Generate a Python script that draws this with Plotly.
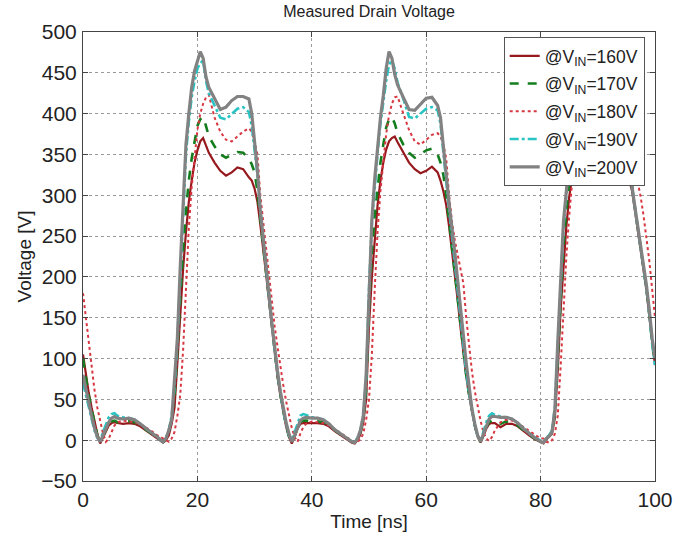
import plotly.graph_objects as go

TIME_NS = [
    0, 0.5, 1, 1.5, 2, 2.5, 3, 3.5, 4, 4.5, 5, 5.5, 6,
    7, 8, 9, 10, 11, 12, 13, 14,
    14.5, 15, 15.5, 16, 16.5, 17, 17.5, 18, 18.5, 19, 19.5, 20, 20.5, 21, 21.5, 22,
    23, 24, 25, 26, 27, 28, 29,
    29.5, 30, 30.5, 31, 31.5, 32, 32.5, 33, 33.5, 34, 34.5, 35, 35.5, 36,
    36.5, 37, 37.5, 38, 38.5, 39,
    40, 41, 42, 43, 44, 45, 46, 47,
    47.5, 48, 48.5, 49, 49.5, 50, 50.5, 51, 51.5, 52, 52.5, 53, 53.5, 54, 54.5, 55,
    56, 57, 58, 59, 60, 61, 62,
    62.5, 63, 63.5, 64, 64.5, 65, 65.5, 66, 66.5, 67, 67.5, 68, 68.5, 69,
    69.5, 70, 70.5, 71, 71.5, 72,
    73, 74, 75, 76, 77, 78, 79, 80,
    80.5, 81, 81.5, 82, 82.5, 83, 83.5, 84, 84.5, 85, 85.5, 86, 86.5, 87, 87.5, 88,
    89, 90, 91, 92, 93, 94, 95,
    95.5, 96, 96.5, 97, 97.5, 98, 98.5, 99, 99.5, 100,
]

V160 = [
    105, 80, 58, 40, 22, 8, -4, 4, 12, 18, 21, 22, 21,
    20, 21, 20, 17, 12, 7, 2, -3,
    0, 6, 20, 40, 95, 155, 210, 255, 292, 318, 340, 355, 366, 370, 362, 352,
    340, 330, 324, 328, 334, 332, 322,
    318, 308, 292, 264, 236, 204, 172, 138, 106, 78, 55, 34, 17, 4,
    -4, 4, 14, 20, 21, 21,
    21, 21, 20, 17, 11, 6, 1, -3,
    -4, 0, 7, 22, 50, 140, 200, 250, 288, 318, 340, 356, 366, 370, 372, 365,
    352, 340, 332, 327, 330, 335, 328,
    318, 305, 288, 262, 234, 204, 172, 138, 106, 78, 55, 34, 17, 4,
    -3, 5, 14, 20, 21, 21,
    16, 20, 20, 17, 11, 6, 1, -3,
    -4, 1, 4, 8, 28, 85, 160, 217, 262, 298, 325, 345, 360, 368, 371, 366,
    352, 338, 328, 326, 332, 335, 325,
    318, 305, 282, 258, 234, 210, 184, 152, 118, 92,
]

V170 = [
    100, 75, 55, 38, 20, 6, -2, 6, 14, 20, 23, 24, 22,
    22, 23, 22, 18, 13, 8, 3, -2,
    2, 10, 28, 55, 110, 175, 235, 280, 318, 345, 365, 385, 393, 396, 385, 372,
    360, 350, 346, 350, 353, 352, 345,
    338, 328, 305, 268, 238, 206, 174, 140, 108, 80, 56, 35, 18, 5,
    -3, 5, 15, 22, 24, 24,
    23, 23, 22, 18, 12, 7, 2, -2,
    -3, 2, 10, 26, 62, 160, 230, 275, 312, 340, 362, 383, 393, 396, 388, 376,
    362, 352, 346, 350, 355, 357, 350,
    340, 325, 300, 268, 238, 206, 174, 140, 108, 80, 56, 35, 18, 5,
    -2, 6, 16, 22, 24, 24,
    20, 23, 22, 18, 12, 7, 2, -2,
    -3, 2, 5, 9, 32, 100, 175, 238, 282, 318, 348, 370, 388, 396, 394, 382,
    368, 355, 346, 350, 355, 355, 345,
    335, 308, 284, 260, 236, 212, 186, 155, 120, 95,
]

V180 = [
    180, 150, 120, 90, 62, 40, 22, 8, -2, 2, 10, 18, 22,
    24, 23, 22, 20, 16, 11, 6, 2,
    -1, -2, 2, 10, 30, 55, 110, 190, 260, 310, 350, 380, 400, 412, 420, 423,
    395, 378, 368, 366, 372, 378, 382,
    378, 365, 350, 300, 268, 237, 200, 165, 140, 115, 90, 68, 48, 30,
    15, 4, -2, 8, 16, 20,
    23, 22, 21, 18, 14, 9, 4, 0,
    -2, -2, 1, 8, 25, 50, 105, 185, 255, 305, 345, 375, 398, 412, 420, 421,
    400, 380, 366, 362, 368, 374, 376,
    372, 362, 345, 300, 268, 245, 228, 210, 192, 150, 112, 84, 60, 40,
    24, 10, 2, -1, 4, 12,
    22, 25, 24, 21, 16, 11, 6, 2,
    2, -2, -3, 0, 8, 30, 90, 165, 225, 275, 318, 355, 385, 404, 416, 422,
    412, 390, 370, 364, 368, 376, 382,
    368, 350, 335, 318, 298, 275, 250, 220, 185, 150,
]

V190 = [
    70, 55, 40, 26, 12, 3, -1, 10, 20, 28, 32, 33, 30,
    28, 27, 25, 20, 14, 8, 3, -2,
    3, 12, 30, 65, 120, 200, 285, 350, 390, 420, 440, 455, 462, 465, 440, 425,
    410, 395, 393, 400, 406, 408, 402,
    385, 358, 325, 280, 245, 212, 178, 143, 110, 82, 58, 36, 20, 6,
    0, 10, 22, 30, 32, 31,
    28, 27, 25, 20, 13, 8, 3, -2,
    -2, 3, 12, 30, 75, 185, 265, 315, 352, 388, 415, 440, 460, 466, 455, 438,
    418, 396, 394, 400, 406, 408, 404,
    388, 350, 318, 282, 250, 215, 180, 145, 112, 82, 58, 36, 18, 5,
    0, 10, 22, 30, 33, 31,
    29, 28, 26, 21, 14, 8, 3, -1,
    -2, 3, 6, 12, 40, 115, 195, 262, 300, 340, 382, 415, 440, 458, 465, 458,
    432, 410, 396, 396, 402, 408, 405,
    368, 308, 283, 258, 236, 212, 186, 155, 118, 92,
]

V200 = [
    80, 62, 45, 30, 15, 4, -2, 6, 14, 22, 27, 29, 27,
    26, 27, 25, 20, 14, 9, 4, -2,
    2, 12, 25, 70, 125, 212, 295, 362, 400, 432, 452, 466, 476, 468, 445, 432,
    418, 405, 408, 416, 421, 421, 418,
    400, 365, 330, 282, 250, 215, 180, 145, 112, 85, 60, 38, 22, 8,
    -2, 6, 16, 24, 27, 28,
    27, 27, 25, 20, 13, 8, 3, -2,
    -3, 2, 12, 30, 80, 190, 270, 320, 358, 395, 422, 455, 476, 468, 448, 435,
    420, 405, 404, 412, 419, 420, 410,
    395, 355, 325, 290, 262, 230, 196, 165, 128, 94, 65, 38, 20, 6,
    -2, 8, 18, 26, 29, 29,
    28, 28, 26, 21, 14, 8, 3, -2,
    -3, 2, 5, 10, 38, 120, 200, 268, 305, 345, 390, 425, 450, 470, 476, 465,
    430, 410, 405, 412, 419, 421, 412,
    370, 310, 285, 262, 240, 215, 190, 160, 125, 100,
]

SERIES_NAMES = [
    "@V<sub>IN</sub>=160V",
    "@V<sub>IN</sub>=170V",
    "@V<sub>IN</sub>=180V",
    "@V<sub>IN</sub>=190V",
    "@V<sub>IN</sub>=200V",
]
SERIES_VALUES = [V160, V170, V180, V190, V200]
SERIES_STYLE = [
    dict(color="rgb(150,25,30)", width=2.2, dash="solid"),
    dict(color="rgb(20,125,30)", width=2.6, dash="dash"),
    dict(color="rgb(215,55,65)", width=2.0, dash="dot"),
    dict(color="rgb(40,195,195)", width=2.6, dash="dashdot"),
    dict(color="rgb(130,130,130)", width=3.2, dash="solid"),
]

FONT = "Liberation Sans, Arial, Helvetica, sans-serif"

fig = go.Figure()
for i, (name, vals, style) in enumerate(zip(SERIES_NAMES, SERIES_VALUES, SERIES_STYLE)):
    fig.add_trace(go.Scatter(x=TIME_NS, y=vals, mode="lines", name=name,
                             line=style, legendgroup=f"g{i}"))

axis_common = dict(
    showline=True,
    linecolor="#444444",
    linewidth=1,
    mirror="allticks",
    ticks="inside",
    ticklen=5,
    tickcolor="#444444",
    showgrid=True,
    gridcolor="#9a9a9a",
    griddash="dot",
    gridwidth=1,
    zeroline=False,
    automargin=False,
    tickfont=dict(family=FONT, size=21, color="#222222"),
)

fig.update_layout(
    width=695,
    height=536,
    paper_bgcolor="white",
    plot_bgcolor="white",
    margin=dict(l=83, r=40, t=32, b=55),
    font=dict(family=FONT, color="#222222"),
    title=dict(
        text="Measured Drain Voltage",
        font=dict(family=FONT, size=16, color="#222222"),
        x=0.5, xanchor="center", xref="paper",
        y=0.978, yanchor="middle", yref="container",
    ),
    xaxis=dict(
        range=[0, 100], dtick=20, tick0=0,
        ticklabelstandoff=0,
        title=dict(text="Time [ns]", font=dict(family=FONT, size=19), standoff=4),
        **axis_common,
    ),
    yaxis=dict(
        range=[-50, 500], dtick=50, tick0=0,
        ticklabelstandoff=1,
        title=dict(text="Voltage [V]", font=dict(family=FONT, size=19), standoff=4),
        **axis_common,
    ),
    legend=dict(
        x=0.982, xanchor="right", y=0.989, yanchor="top",
        bgcolor="white",
        bordercolor="#555555",
        borderwidth=1,
        font=dict(family=FONT, size=17.5, color="#222222"),
        tracegroupgap=2,
    ),
    showlegend=True,
)

fig.write_html(
    "out.html",
    config={"displayModeBar": False},
    post_script="document.body.style.margin='0';",
)
